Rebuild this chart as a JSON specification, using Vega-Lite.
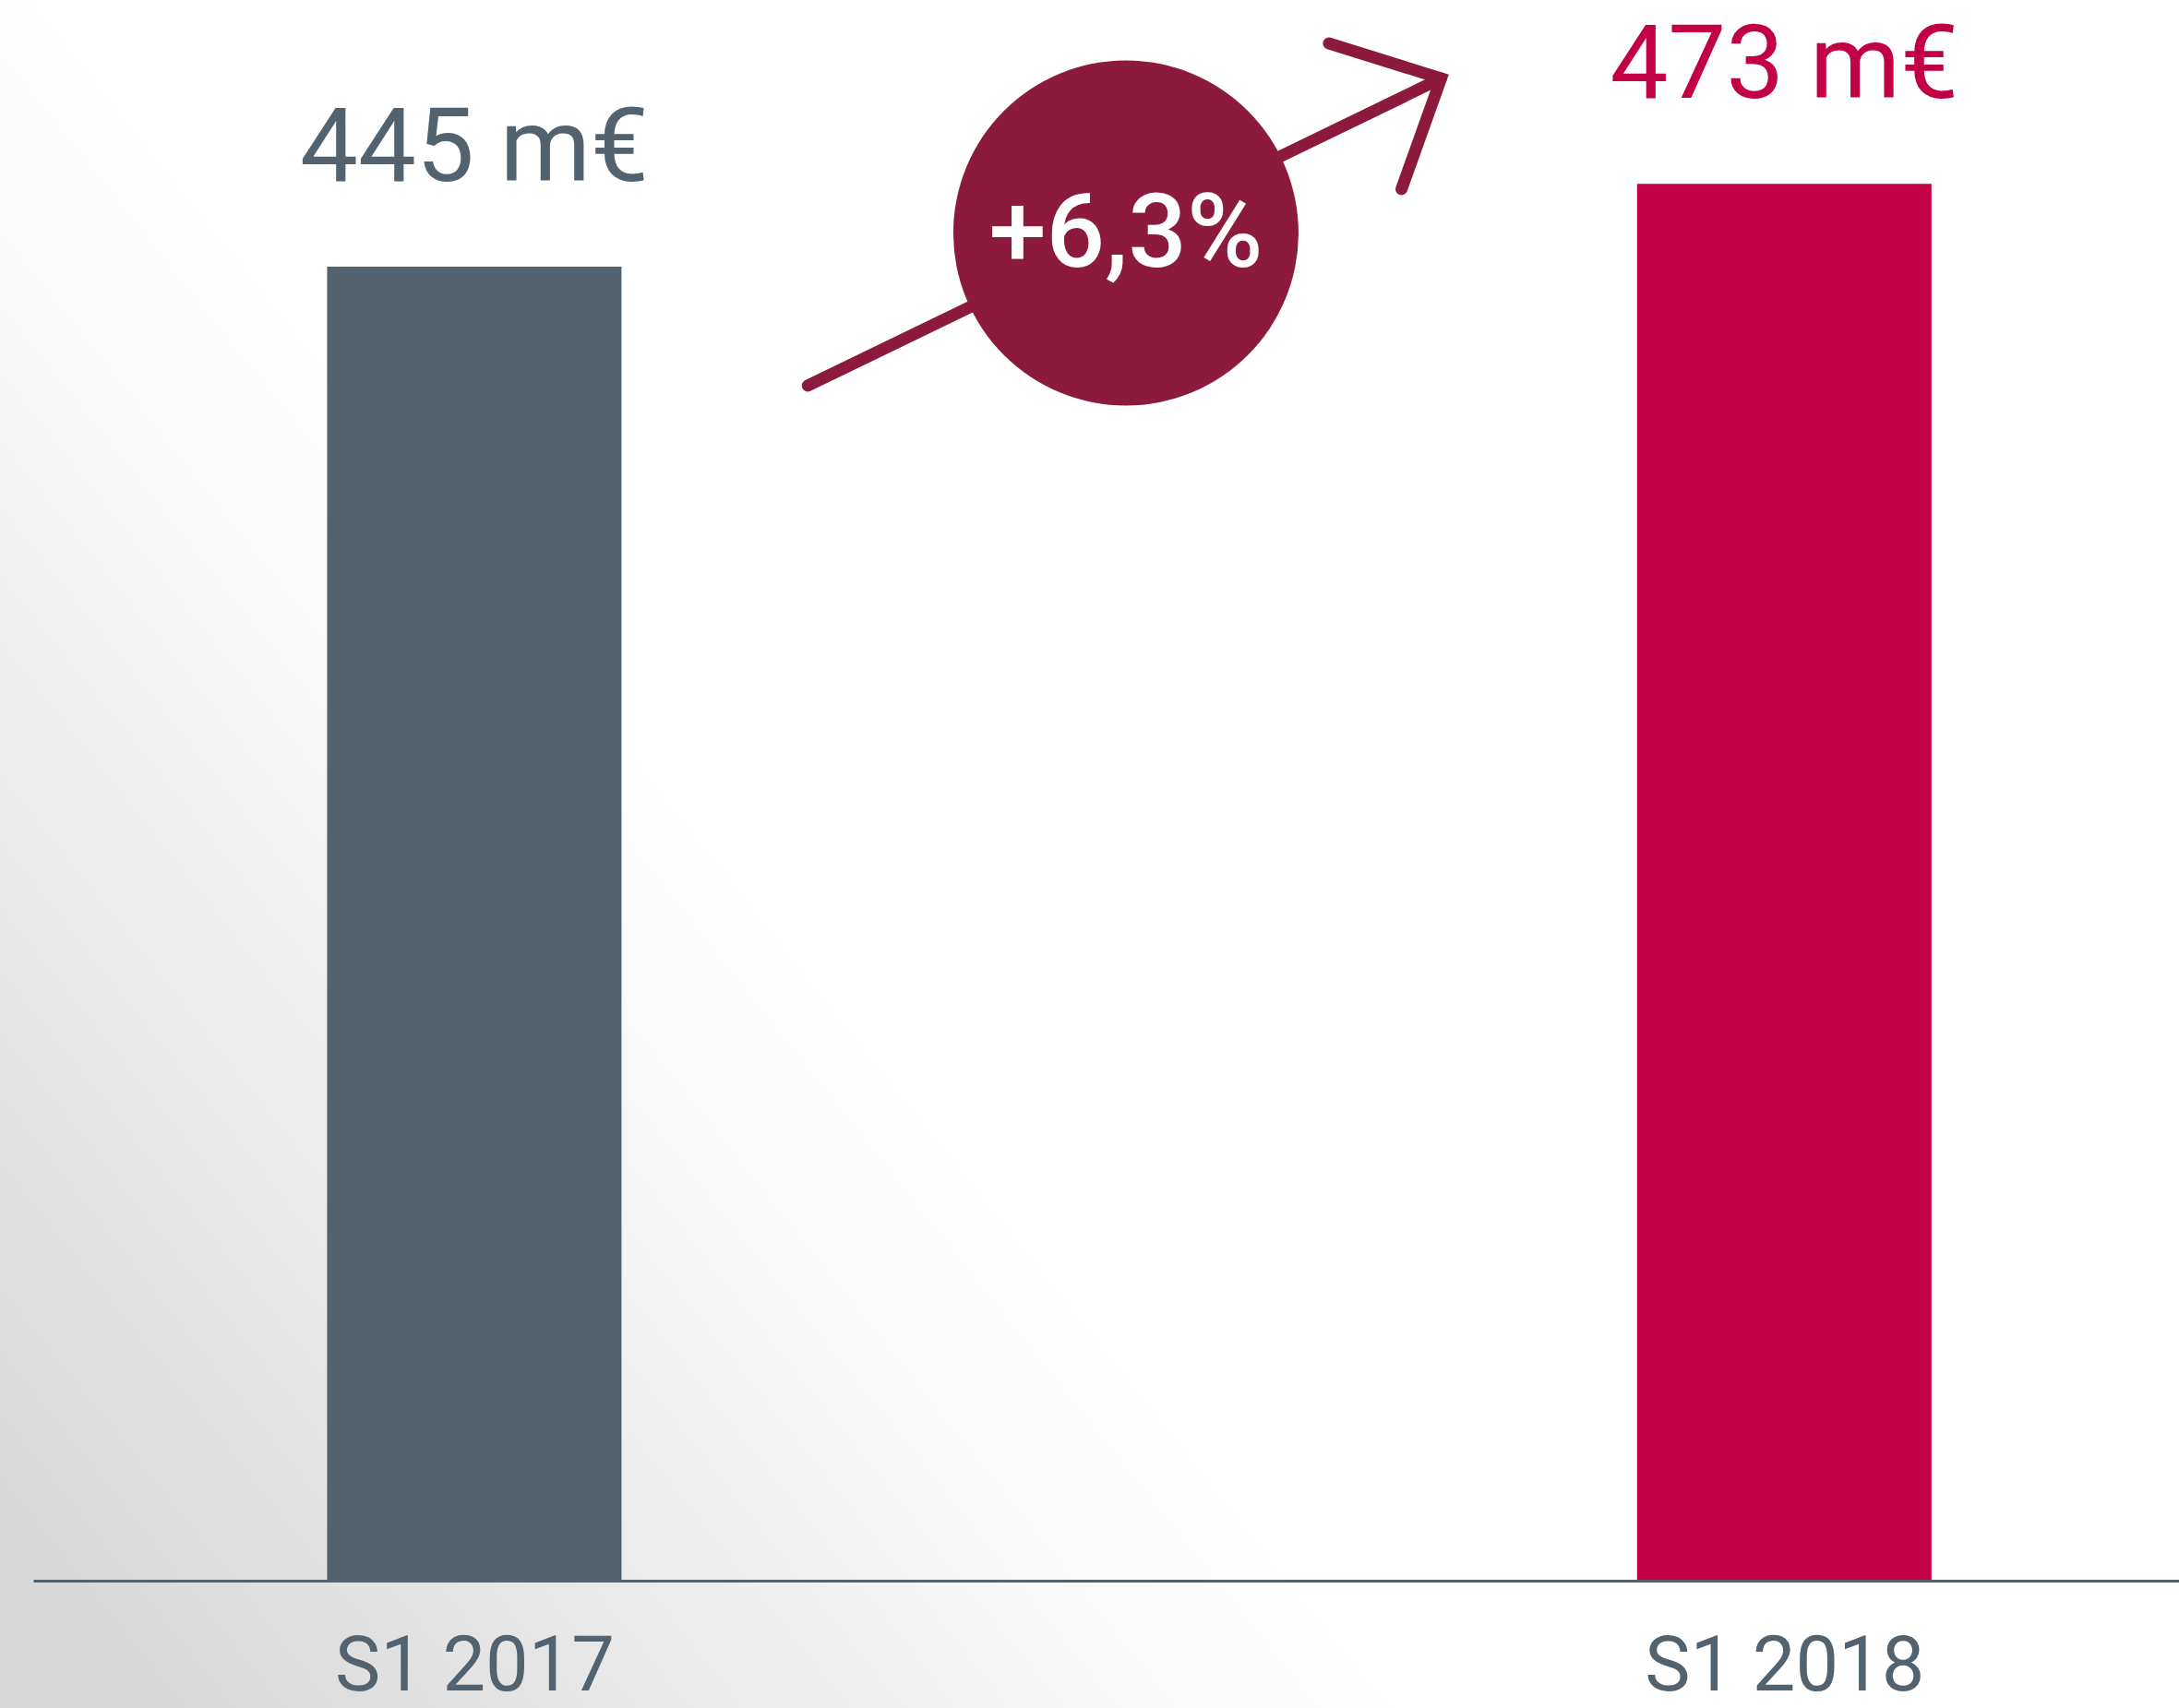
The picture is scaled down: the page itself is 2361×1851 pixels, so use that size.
{
  "$schema": "https://vega.github.io/schema/vega-lite/v6.json",
  "width": 2325,
  "height": 1713,
  "autosize": {"type": "none"},
  "padding": {"left": 36, "top": 0, "right": 0, "bottom": 138},
  "background": "#ffffff",
  "config": {
    "view": {"stroke": null},
    "axisX": {
      "title": null,
      "grid": false, "ticks": false, "tickSize": 0,
      "domainColor": "#52636F", "domainWidth": 3,
      "labelFont": "Roboto", "labelFontSize": 83, "labelFontWeight": 400, "labelLimit": 0,
      "labelColor": "#52636F", "labelPadding": 118, "labelBaseline": "alphabetic",
      "labelFlush": false, "labelOverlap": false
    }
  },
  "datasets": {
    "bars": [
      {"period": "S1 2017", "pos": 0, "value": 445, "valueText": "445 m€"},
      {"period": "S1 2018", "pos": 1, "value": 473, "valueText": "473 m€"}
    ],
    "bg": [{"x1": -0.38, "x2": 1.30, "y1": -45, "y2": 540}],
    "arrow": [
      {"seg": "shaft", "ord": 1, "ax": 0.2546, "ay": 404.7},
      {"seg": "shaft", "ord": 2, "ax": 0.7380, "ay": 508.75},
      {"seg": "head", "ord": 1, "ax": 0.6524, "ay": 520.6},
      {"seg": "head", "ord": 2, "ax": 0.7380, "ay": 508.75},
      {"seg": "head", "ord": 3, "ax": 0.7078, "ay": 471.25}
    ],
    "badge": [{"cx": 0.4974, "cy": 456.4, "ty": 445.0, "badgeText": "+6,3%"}]
  },
  "layer": [
    {
      "data": {"name": "bg"},
      "mark": {
        "type": "rect",
        "fill": {
          "gradient": "linear",
          "x1": 0, "y1": 0.85, "x2": 0.4, "y2": 0.6,
          "stops": [
            {"offset": 0, "color": "#d8d8d8"},
            {"offset": 0.4, "color": "#e9e9e9"},
            {"offset": 0.8, "color": "#f9f9f9"},
            {"offset": 1, "color": "#ffffff"}
          ]
        }
      },
      "encoding": {
        "x": {"field": "x1", "type": "quantitative", "scale": {"domain": [-0.3332, 1.2978], "nice": false, "zero": false},
              "axis": {"title": null, "zindex": 1, "labelLimit": 0, "values": [0, 1], "labelExpr": "datum.value == 0 ? 'S1 2017' : 'S1 2018'"}},
        "x2": {"field": "x2"},
        "y": {"field": "y1", "type": "quantitative", "scale": {"domain": [0, 535.3], "nice": false, "zero": false}, "axis": null},
        "y2": {"field": "y2"}
      }
    },
    {
      "data": {"name": "bars"},
      "mark": {"type": "bar", "width": 319},
      "encoding": {
        "x": {"field": "pos", "type": "quantitative", "scale": {"domain": [-0.3332, 1.2978], "nice": false, "zero": false},
              "axis": {"title": null, "zindex": 1, "labelLimit": 0, "values": [0, 1], "labelExpr": "datum.value == 0 ? 'S1 2017' : 'S1 2018'"}},
        "y": {"field": "value", "type": "quantitative", "scale": {"domain": [0, 535.3], "nice": false, "zero": false}, "axis": null},
        "color": {"field": "period", "type": "nominal", "scale": {"domain": ["S1 2017", "S1 2018"], "range": ["#52636F", "#C20045"]}, "legend": null}
      }
    },
    {
      "data": {"name": "bars"},
      "mark": {"type": "text", "font": "Roboto", "fontSize": 112, "fontWeight": 400, "align": "center", "baseline": "alphabetic", "dy": -93},
      "encoding": {
        "x": {"field": "pos", "type": "quantitative", "scale": {"domain": [-0.3332, 1.2978], "nice": false, "zero": false},
              "axis": {"title": null, "zindex": 1, "labelLimit": 0, "values": [0, 1], "labelExpr": "datum.value == 0 ? 'S1 2017' : 'S1 2018'"}},
        "y": {"field": "value", "type": "quantitative", "scale": {"domain": [0, 535.3], "nice": false, "zero": false}, "axis": null},
        "text": {"field": "valueText"},
        "color": {"field": "period", "type": "nominal", "scale": {"domain": ["S1 2017", "S1 2018"], "range": ["#52636F", "#C20045"]}, "legend": null}
      }
    },
    {
      "data": {"name": "arrow"},
      "mark": {"type": "line", "color": "#8B1A3C", "strokeWidth": 13, "strokeCap": "round", "strokeJoin": "miter"},
      "encoding": {
        "x": {"field": "ax", "type": "quantitative", "scale": {"domain": [-0.3332, 1.2978], "nice": false, "zero": false},
              "axis": {"title": null, "zindex": 1, "labelLimit": 0, "values": [0, 1], "labelExpr": "datum.value == 0 ? 'S1 2017' : 'S1 2018'"}},
        "y": {"field": "ay", "type": "quantitative", "scale": {"domain": [0, 535.3], "nice": false, "zero": false}, "axis": null},
        "detail": {"field": "seg"},
        "order": {"field": "ord"}
      }
    },
    {
      "data": {"name": "badge"},
      "mark": {"type": "point", "shape": "circle", "filled": true, "color": "#8B1A3C", "opacity": 1, "size": 139876},
      "encoding": {
        "x": {"field": "cx", "type": "quantitative", "scale": {"domain": [-0.3332, 1.2978], "nice": false, "zero": false},
              "axis": {"title": null, "zindex": 1, "labelLimit": 0, "values": [0, 1], "labelExpr": "datum.value == 0 ? 'S1 2017' : 'S1 2018'"}},
        "y": {"field": "cy", "type": "quantitative", "scale": {"domain": [0, 535.3], "nice": false, "zero": false}, "axis": null}
      }
    },
    {
      "data": {"name": "badge"},
      "mark": {"type": "text", "font": "Roboto", "fontSize": 112, "fontWeight": 500, "color": "#ffffff", "align": "center", "baseline": "alphabetic"},
      "encoding": {
        "x": {"field": "cx", "type": "quantitative", "scale": {"domain": [-0.3332, 1.2978], "nice": false, "zero": false},
              "axis": {"title": null, "zindex": 1, "labelLimit": 0, "values": [0, 1], "labelExpr": "datum.value == 0 ? 'S1 2017' : 'S1 2018'"}},
        "y": {"field": "ty", "type": "quantitative", "scale": {"domain": [0, 535.3], "nice": false, "zero": false}, "axis": null},
        "text": {"field": "badgeText"}
      }
    }
  ]
}
